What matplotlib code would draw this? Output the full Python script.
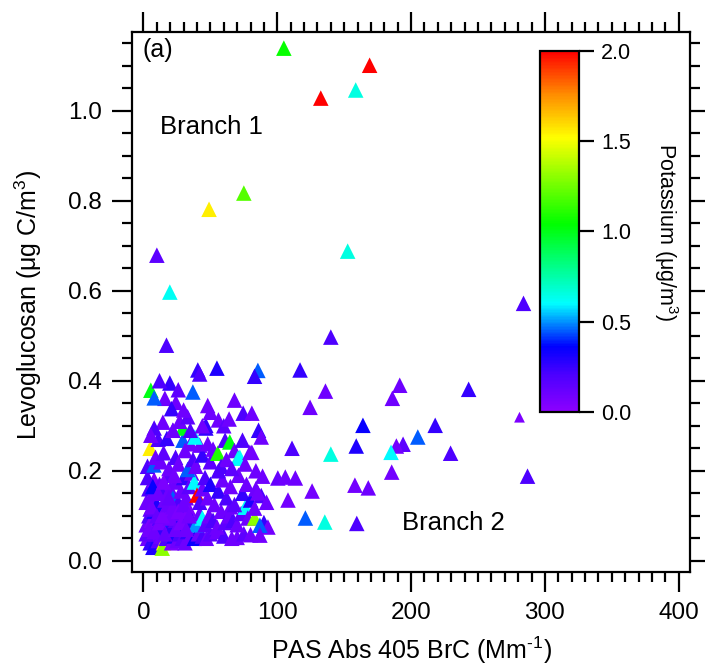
import numpy as np
import matplotlib.pyplot as plt
from matplotlib.colors import LinearSegmentedColormap
from matplotlib.ticker import MultipleLocator, FormatStrFormatter

plt.rcParams['font.family'] = ['Liberation Sans', 'DejaVu Sans']
plt.rcParams['mathtext.fontset'] = 'custom'
plt.rcParams['mathtext.rm'] = 'Liberation Sans'
plt.rcParams['mathtext.it'] = 'Liberation Sans:italic'
plt.rcParams['mathtext.bf'] = 'Liberation Sans:bold'

# scattered points away from the dense cluster
x_sparse = [104.9, 132.5, 169, 158.6, 75, 49, 152.6, 10, 19.7, 284,
            140, 17.2, 85.5, 83, 117, 136, 191.5, 186, 243, 124.5,
            281, 164, 218, 86, 88, 205, 194, 189, 185, 159,
            111, 140, 229.5, 81, 185.5, 287, 89, 100.4, 106, 113.5,
            158, 168, 126, 85.5, 108, 83, 121, 135.5, 159.4, 93,
            87, 87]
y_sparse = [1.139, 1.028, 1.101, 1.046, 0.817, 0.781, 0.688, 0.679, 0.597, 0.572,
            0.497, 0.479, 0.423, 0.41, 0.424, 0.377, 0.39, 0.361, 0.381, 0.341,
            0.319, 0.301, 0.301, 0.29, 0.275, 0.275, 0.259, 0.255, 0.241, 0.255,
            0.25, 0.237, 0.239, 0.241, 0.197, 0.188, 0.188, 0.184, 0.186, 0.184,
            0.168, 0.162, 0.155, 0.151, 0.135, 0.117, 0.095, 0.086, 0.083, 0.075,
            0.079, 0.057]
k_sparse = [1.05, 2.0, 2.0, 0.65, 1.2, 1.55, 0.65, 0.15, 0.62, 0.2,
            0.2, 0.2, 0.45, 0.25, 0.25, 0.1, 0.1, 0.1, 0.25, 0.1,
            0.05, 0.35, 0.25, 0.25, 0.1, 0.45, 0.15, 0.08, 0.6, 0.3,
            0.2, 0.65, 0.2, 0.08, 0.08, 0.2, 0.1, 0.12, 0.1, 0.1,
            0.08, 0.1, 0.08, 0.08, 0.08, 0.1, 0.45, 0.65, 0.2, 0.08,
            0.45, 0.08]

# dense cluster at low absorption
x_cluster = [3, 5, 7, 9, 11, 13, 15, 14, 17, 19,
             21, 23, 25, 27, 29, 31, 33, 35, 38, 41,
             44, 47, 50, 55, 60, 66, 70, 75, 80, 2,
             2, 4, 6, 8, 10, 12, 14, 16, 18, 20,
             22, 24, 26, 28, 30, 32, 34, 36, 39, 42,
             44, 46, 49, 52, 55, 58, 61, 64, 67, 70,
             73, 76, 78, 83, 65, 90, 5, 9, 13, 17,
             2, 4, 6, 8, 10, 12, 14, 16, 18, 20,
             22, 24, 26, 28, 30, 32, 34, 36, 38, 40,
             42, 44, 46, 48, 50, 53, 56, 59, 62, 65,
             68, 71, 74, 77, 80, 84, 88, 92, 3, 7,
             3, 5, 7.8, 9, 11, 13, 15, 17.5, 19, 22,
             24, 26, 29.5, 29.4, 31, 33, 35, 37, 39, 42,
             44, 46.6, 48, 50, 52, 55.5, 58, 61, 64.5, 68,
             70.6, 72, 74, 79.5, 62, 66, 38.4, 56, 76, 84,
             40.6, 42, 54.9, 19.7, 5.5, 36.9, 16, 24.2, 8, 21,
             68, 74.5, 81, 14.5, 56, 8, 22, 46.6, 44, 5.5,
             27, 33, 12, 30, 60, 50, 64, 35, 26, 48,
             4, 8, 12, 16, 20, 24, 28, 32, 6, 10,
             14, 18, 22, 26, 30, 34, 11, 15, 19, 23]
y_cluster = [.05, .04, .03, .06, .045, .055, .04, .028, .05, .065,
             .04, .055, .045, .06, .05, .04, .065, .055, .05, .06,
             .055, .05, .06, .065, .055, .05, .052, .06, .058, .06,
             .08, .1, .09, .11, .075, .095, .12, .085, .1, .075,
             .11, .09, .08, .105, .095, .075, .115, .09, .08, .105,
             .095, .08, .1, .09, .075, .11, .085, .1, .09, .08,
             .105, .119, .095, .095, .12, .085, .115, .13, .07, .115,
             .13, .16, .145, .18, .125, .17, .15, .135, .19, .16,
             .139, .175, .13, .155, .185, .14, .165, .195, .175, .146,
             .13, .16, .185, .14, .17, .125, .155, .18, .14, .165,
             .125, .19, .15, .17, .135, .16, .145, .13, .185, .165,
             .21, .25, .213, .23, .27, .22, .24, .272, .205, .29,
             .23, .215, .268, .295, .245, .203, .26, .225, .21, .257,
             .235, .295, .26, .22, .248, .239, .21, .268, .264, .245,
             .228, .23, .268, .241, .225, .205, .275, .2, .215, .2,
             .424, .415, .428, .395, .379, .375, .361, .352, .362, .338,
             .357, .328, .328, .308, .313, .295, .29, .301, .3, .279,
             .31, .32, .4, .335, .3, .33, .315, .29, .38, .345,
             .07, .065, .085, .06, .095, .07, .085, .07, .12, .1,
             .1, .125, .12, .11, .125, .1, .15, .175, .14, .19]
k_cluster = [.1, .25, .3, .1, .15, .1, 1.5, 1.3, .2, .1,
             .05, .3, .1, .2, .15, .1, .25, .1, .35, .1,
             .2, .1, .15, .1, .2, .1, .1, .15, .1, .15,
             .1, .2, .05, .3, .1, .2, .1, .4, .1, .25,
             .1, .15, .3, .1, .2, .1, .05, .25, .5, .1,
             .6, .15, .1, .2, .1, .1, .15, .1, .2, .1,
             .15, .6, .1, 1.3, .1, .25, .15, .1, .25, .05,
             .1, .2, .1, .05, .3, .1, .2, .1, .15, .1,
             .45, .1, .2, .1, .25, .1, .15, .1, .6, 2.0,
             .2, .1, .2, .1, .3, .1, .25, .1, .2, .1,
             .15, .1, .25, .1, .3, .1, .2, .1, .2, .35,
             .2, 1.55, .45, .1, .2, .1, .15, .25, .1, .1,
             .2, .1, .45, 1.0, .1, .45, .1, .2, .1, .1,
             .25, .25, .1, .15, .1, 1.1, .2, .2, 1.0, .1,
             .65, .6, .2, .1, .1, .15, .6, .2, .1, .1,
             .25, .2, .3, .25, 1.0, .45, .1, .1, .45, .25,
             .1, .2, .1, .1, .1, .2, .1, .25, .1, .1,
             .1, .15, .2, .1, .15, .1, .1, .2, .15, .1,
             .08, .1, .06, .12, .08, .1, .06, .1, .08, .12,
             .06, .1, .08, .06, .1, .08, .1, .06, .12, .08]

cbar_ticks = [0.0, 0.5, 1.0, 1.5, 2.0]

pas_abs = np.array(x_cluster + x_sparse)
levo = np.array(y_cluster + y_sparse)
potassium = np.array(k_cluster + k_sparse)

# purple -> blue -> cyan -> green -> yellow -> red
cmap = LinearSegmentedColormap.from_list('igor_rainbow', [
    (0.0, (0.55, 0.0, 1.0)),
    (0.1, (0.3, 0.0, 1.0)),
    (0.18, (0.0, 0.0, 1.0)),
    (0.3, (0.0, 1.0, 1.0)),
    (0.52, (0.0, 1.0, 0.0)),
    (0.76, (1.0, 1.0, 0.0)),
    (0.88, (1.0, 0.55, 0.0)),
    (1.0, (1.0, 0.0, 0.0))])

sizes = np.full(len(pas_abs), 125.0)
sizes[len(x_cluster) + 20] = 60.0  # the small one near 280

fig = plt.figure(figsize=(7.05, 6.67), dpi=100)
ax = fig.add_axes([0.1868, 0.1417, 0.7919, 0.8108])

sc = ax.scatter(pas_abs, levo, c=potassium, cmap=cmap, vmin=0, vmax=2,
                marker='^', s=sizes, linewidths=0)

ax.set_xlim(-8.8, 408.4)
ax.set_ylim(-0.026, 1.1756)
ax.xaxis.set_major_locator(MultipleLocator(100))
ax.xaxis.set_minor_locator(MultipleLocator(10))
ax.yaxis.set_major_locator(MultipleLocator(0.2))
ax.yaxis.set_minor_locator(MultipleLocator(0.05))
ax.yaxis.set_major_formatter(FormatStrFormatter('%.1f'))
ax.tick_params(which='both', direction='out', top=True, right=True, width=1.6)
ax.tick_params(which='major', length=14.5, labelsize=17.5, pad=7)
ax.tick_params(which='minor', length=7.5)
for sp in ax.spines.values():
    sp.set_linewidth(1.6)

fig.text(28/705, 1-305/667, 'Levoglucosan (μg C/m$^{3}$)', rotation=90,
         ha='center', va='center', fontsize=18)
fig.text(412/705, 1-650/667, r'PAS Abs 405 BrC (Mm$^{\text{-}1}$)',
         ha='center', va='center', fontsize=18)
fig.text(143/705, 1-50/667, '(a)', va='center', fontsize=18)
fig.text(160/705, 1-127/667, 'Branch 1', va='center', fontsize=18.5)
fig.text(402/705, 1-523/667, 'Branch 2', va='center', fontsize=18.5)

cax = fig.add_axes([540/705, 1-412/667, 39/705, 361.3/667])
cb = fig.colorbar(sc, cax=cax, ticks=cbar_ticks)
cb.outline.set_linewidth(1.6)
cax.yaxis.set_major_formatter(FormatStrFormatter('%.1f'))
cax.tick_params(length=11, width=1.6, labelsize=15.5, pad=5)
fig.text(666/705, 1-232/667, 'Potassium (μg/m$^{3}$)', rotation=-90,
         ha='center', va='center', fontsize=15.5)

fig.savefig('out.png', dpi=100)
